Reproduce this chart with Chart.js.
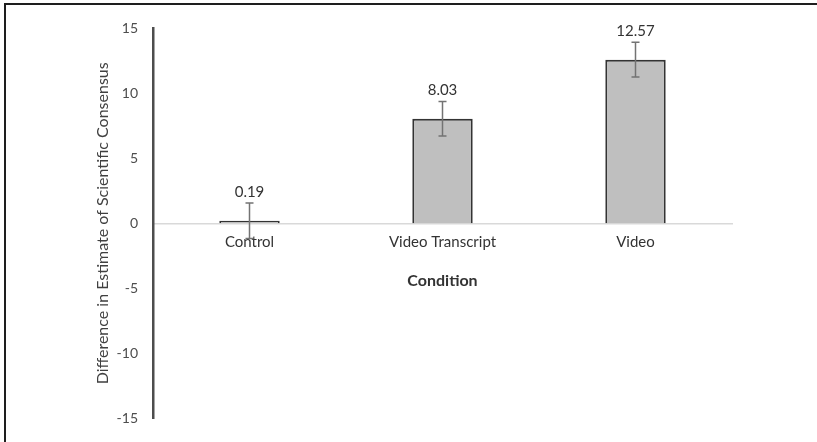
<!DOCTYPE html>
<html>
<head>
<meta charset="utf-8">
<script src="https://cdn.jsdelivr.net/npm/chart.js@4.4.1/dist/chart.umd.min.js"></script>
<style>
  html, body { margin: 0; padding: 0; background: #fff; }
  #wrap { position: relative; width: 817px; height: 442px; overflow: hidden; }
  #frame {
    position: absolute; left: 4px; top: 3px; right: 0; bottom: 0;
    border-left: 2px solid #1e1e1e; border-top: 2px solid #1e1e1e;
    pointer-events: none;
  }
  canvas { display: block; }
</style>
</head>
<body>
<div id="wrap">
  <canvas id="chart" width="817" height="442"></canvas>
  <div id="frame"></div>
</div>
<script>
// Mean change in estimated scientific consensus by condition, with error margins
const conditions = ['Control', 'Video Transcript', 'Video'];
const meanDifference = [0.19, 8.03, 12.57];
const errorMargin = [1.36, 1.33, 1.34];
const yTicks = [-15, -10, -5, 0, 5, 10, 15];

const FONT = 'Lato, "Open Sans", sans-serif';

// Whiskers and value labels above each bar
const errorBars = {
  id: 'errorBars',
  afterDatasetsDraw(chart) {
    const { ctx } = chart;
    const yScale = chart.scales.y;
    const meta = chart.getDatasetMeta(0);
    ctx.save();
    meta.data.forEach((bar, i) => {
      const x = bar.x;
      const hi = yScale.getPixelForValue(meanDifference[i] + errorMargin[i]);
      const lo = yScale.getPixelForValue(meanDifference[i] - errorMargin[i]);
      ctx.strokeStyle = '#737373';
      ctx.lineWidth = 1.5;
      ctx.beginPath();
      ctx.moveTo(x, hi); ctx.lineTo(x, lo);
      ctx.moveTo(x - 4, hi); ctx.lineTo(x + 4, hi);
      ctx.moveTo(x - 4, lo); ctx.lineTo(x + 4, lo);
      ctx.stroke();

      ctx.fillStyle = '#333333';
      ctx.font = '15px ' + FONT;
      ctx.textAlign = 'center';
      ctx.textBaseline = 'middle';
      ctx.fillText(meanDifference[i].toFixed(2), x, hi - 11);
    });
    ctx.restore();
  }
};

new Chart(document.getElementById('chart'), {
  type: 'bar',
  data: {
    labels: conditions,
    datasets: [{
      data: meanDifference,
      backgroundColor: '#bfbfbf',
      borderColor: '#333333',
      borderWidth: 2,
      barPercentage: 1,
      categoryPercentage: 0.313
    }]
  },
  options: {
    responsive: false,
    animation: false,
    layout: { padding: { top: 28, bottom: 23, left: 0, right: 85 } },
    plugins: { legend: { display: false }, tooltip: { enabled: false } },
    scales: {
      x: {
        type: 'category',
        position: { y: 0 },
        grid: { display: false, drawTicks: false },
        border: { display: true, color: '#d9d9d9', width: 1.5 },
        ticks: { color: '#333333', font: { family: FONT, size: 15 }, padding: 10, maxRotation: 0 },
        title: {
          display: true, text: 'Condition', color: '#333333',
          font: { family: FONT, size: 16, weight: 'bold' },
          padding: { top: 10, bottom: 0 }
        }
      },
      y: {
        min: yTicks[0],
        max: yTicks[yTicks.length - 1],
        afterFit(scale) { scale.width = 153; },
        afterBuildTicks(scale) { scale.ticks = yTicks.map(v => ({ value: v })); },
        grid: { display: false, drawTicks: false },
        border: { display: true, color: '#4d4d4d', width: 2.5 },
        ticks: { color: '#4d4d4d', font: { family: FONT, size: 14 }, padding: 15 },
        title: {
          display: true, text: 'Difference in Estimate of Scientific Consensus', color: '#404040',
          font: { family: FONT, size: 16 },
          padding: { top: 93, bottom: 0 }
        }
      }
    }
  },
  plugins: [errorBars]
});
</script>
</body>
</html>
